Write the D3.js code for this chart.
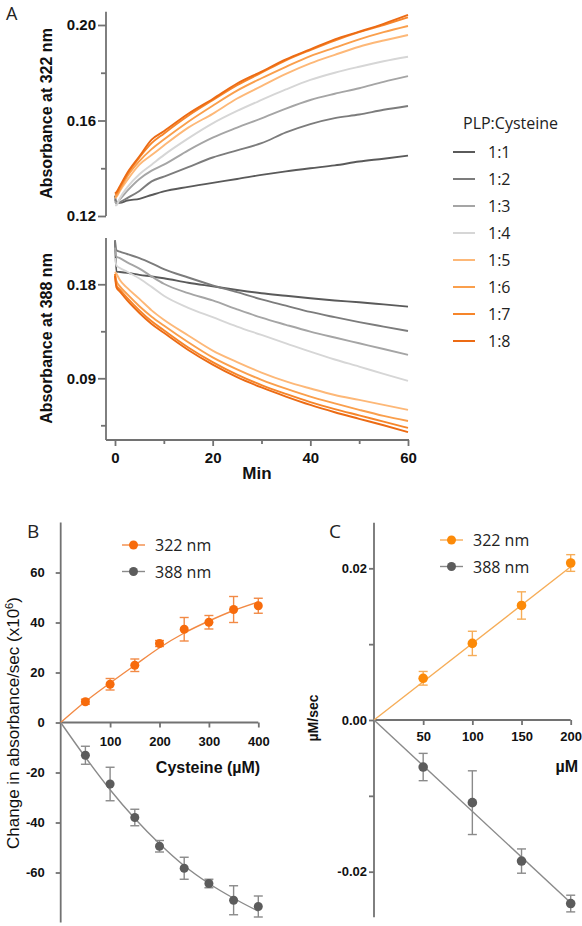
<!DOCTYPE html>
<html><head><meta charset="utf-8">
<script src="https://cdn.jsdelivr.net/npm/d3@7"></script>
<style>body{margin:0;background:#fff}svg{display:block}</style>
</head><body>
<script>
// ---------- DATA ----------
const ratios = ["1:1","1:2","1:3","1:4","1:5","1:6","1:7","1:8"];
const lineColors = ["#5a5a5a","#7c7c7c","#a5a5a5","#d6d6d6","#fdb878","#fa9f4c","#f6852a","#ec6b14"];
const times = [0,0.3,1,2.5,5,7.5,10,15,20,25,30,35,40,45,50,55,60];
const abs322 = [
  [0.1285,0.1255,0.1255,0.1265,0.1272,0.1288,0.1303,0.1322,0.1339,0.1355,0.1372,0.1387,0.1400,0.1412,0.1428,0.1440,0.1453],
  [0.1270,0.1252,0.1258,0.1275,0.1305,0.1345,0.1365,0.1405,0.1445,0.1475,0.1505,0.1550,0.1585,0.1610,0.1625,0.1645,0.1661],
  [0.1260,0.1255,0.1270,0.1305,0.1355,0.1390,0.1415,0.1475,0.1528,0.1570,0.1609,0.1650,0.1686,0.1712,0.1735,0.1762,0.1786],
  [0.1245,0.1245,0.1275,0.1320,0.1375,0.1415,0.1455,0.1525,0.1588,0.1640,0.1686,0.1730,0.1770,0.1800,0.1825,0.1848,0.1867],
  [0.1275,0.1280,0.1305,0.1350,0.1415,0.1455,0.1495,0.1570,0.1628,0.1692,0.1744,0.1795,0.1839,0.1875,0.1909,0.1935,0.1958],
  [0.1280,0.1285,0.1310,0.1365,0.1430,0.1480,0.1520,0.1595,0.1662,0.1725,0.1777,0.1825,0.1870,0.1905,0.1940,0.1970,0.1996],
  [0.1290,0.1295,0.1320,0.1375,0.1445,0.1505,0.1545,0.1620,0.1685,0.1748,0.1800,0.1852,0.1895,0.1935,0.1970,0.2000,0.2032],
  [0.1295,0.1300,0.1325,0.1380,0.1450,0.1520,0.1555,0.1628,0.1690,0.1755,0.1805,0.1856,0.1898,0.1940,0.1972,0.2005,0.2042]
];
const abs388 = [
  [0.222,0.1921,0.1918,0.1910,0.1890,0.1875,0.1858,0.1815,0.1780,0.1745,0.1714,0.1690,0.1666,0.1645,0.1628,0.1607,0.1586],
  [0.222,0.2125,0.2112,0.2090,0.2050,0.2000,0.1945,0.1865,0.1790,0.1725,0.1655,0.1595,0.1535,0.1485,0.1438,0.1395,0.1353],
  [0.215,0.2065,0.2050,0.2010,0.1950,0.1875,0.1805,0.1715,0.1645,0.1560,0.1480,0.1412,0.1347,0.1290,0.1235,0.1180,0.1124],
  [0.205,0.1980,0.1955,0.1920,0.1855,0.1775,0.1690,0.1575,0.1485,0.1395,0.1315,0.1235,0.1155,0.1080,0.1012,0.0942,0.0875],
  [0.192,0.1900,0.1840,0.1765,0.1660,0.1550,0.1460,0.1310,0.1165,0.1055,0.0955,0.0870,0.0802,0.0740,0.0693,0.0645,0.0597],
  [0.190,0.1830,0.1780,0.1705,0.1590,0.1490,0.1405,0.1245,0.1100,0.0985,0.0885,0.0800,0.0724,0.0660,0.0598,0.0540,0.0491],
  [0.190,0.1790,0.1750,0.1670,0.1550,0.1445,0.1360,0.1195,0.1055,0.0935,0.0835,0.0750,0.0672,0.0605,0.0545,0.0485,0.0425],
  [0.188,0.1770,0.1730,0.1645,0.1525,0.1420,0.1335,0.1170,0.1030,0.0910,0.0812,0.0725,0.0645,0.0575,0.0512,0.0450,0.0385]
];
const topTicks = [0.12,0.14,0.16,0.18,0.20];
const topLabels = ["0.12","","0.16","","0.20"];
const botTicks = [0.045,0.09,0.135,0.18];
const botLabels = ["","0.09","","0.18"];
const minTicks = [0,10,20,30,40,50,60];
const minLabels = ["0","","20","","40","","60"];

const bConc = [50,100,150,200,250,300,350,400];
const b322 = [8.3,15.3,22.9,31.6,37.3,40.1,45.2,46.7];
const b322Err = [1.0,2.3,2.5,1.2,4.7,2.7,5.2,3.0];
const b388 = [-13.1,-24.6,-38.0,-49.5,-58.3,-64.4,-71.1,-73.6];
const b388Err = [3.6,6.7,3.3,2.3,4.4,1.7,5.8,4.2];
const bFitConc = [0,50,100,150,200,250,300,350,400];
const bFit322 = [0,8.4,15.8,22.9,29.9,35.8,40.6,44.8,48.2];
const bFit388 = [0,-13.9,-26.9,-38.4,-48.5,-57.3,-64.4,-70.3,-75.5];
const bYTicks = [-60,-40,-20,0,20,40,60];
const bXTicks = [100,200,300,400];

const cConc = [50,100,150,200];
const c322 = [0.0055,0.0101,0.0151,0.0207];
const c322Err = [0.0009,0.0016,0.0018,0.0011];
const c388 = [-0.0062,-0.0109,-0.0186,-0.0242];
const c388Err = [0.0018,0.0042,0.0016,0.0011];
const cFitConc = [0,200];
const cFit322 = [0,0.0202];
const cFit388 = [0,-0.0241];
const cYTicks = [-0.02,-0.01,0,0.01,0.02];
const cYLabels = ["-0.02","","0.00","","0.02"];
const cXTicks = [50,100,150,200];

const seriesNames = ["322 nm","388 nm"];

// ---------- STYLE ----------
const AX = "#727272", AXW = 1.8;
const TICKFONT = "'Liberation Sans', Arial, sans-serif";
const TXTFONT = "'Open Sans', sans-serif";
const orangeB = "#f76b0c", orangeBLine = "#f28a45";
const orangeC = "#fc8a08", orangeCLine = "#f6ad58";
const grayPt = "#5c5c5c", grayLine = "#8a8a8a";
const plain = d => String(d);

const svg = d3.select("body").append("svg").attr("width",582).attr("height",926)
  .style("font-family", TXTFONT);

function styleAxis(g){
  g.selectAll(".domain").remove();
  g.selectAll(".tick line").attr("stroke",AX).attr("stroke-width",AXW);
  g.selectAll(".tick text").attr("fill","#111").style("font-family",TICKFONT).style("font-weight","bold");
}

// ---------- PANEL A ----------
const xA = d3.scaleLinear().domain([0,60]).range([115,408]);
const yTop = d3.scaleLinear().domain([0.12,0.20]).range([216,25]);
const yBot = d3.scaleLinear().domain([0.0309,0.2243]).range([440,238]);

svg.append("text").attr("x",6).attr("y",20).text("A").style("font-size","18px").attr("fill","#222");

// top axis
svg.append("line").attr("x1",106).attr("x2",106).attr("y1",yTop(0.2055)).attr("y2",yTop(0.12))
  .attr("stroke",AX).attr("stroke-width",AXW);
const gTopY = svg.append("g").attr("transform","translate(106,0)")
  .call(d3.axisLeft(yTop).tickValues(topTicks).tickSize(8).tickPadding(2).tickFormat((d,i)=>topLabels[i]));
styleAxis(gTopY);
gTopY.selectAll(".tick text").style("font-size","15px");
gTopY.selectAll(".tick line").attr("x2",(d,i)=>topLabels[i]?-8:-5);

svg.append("text").attr("transform",`translate(52,${(25+202)/2}) rotate(-90)`)
  .attr("text-anchor","middle").style("font-family",TICKFONT).style("font-weight","bold")
  .style("font-size","16px").attr("fill","#111").text("Absorbance at 322 nm");

const lineA = (ys, y) => d3.line().x((d,i)=>xA(times[i])).y(d=>y(d)).curve(d3.curveMonotoneX)(ys);
svg.append("g").selectAll("path").data(abs322).join("path")
  .attr("d",d=>lineA(d,yTop)).attr("fill","none")
  .attr("stroke",(d,i)=>lineColors[i]).attr("stroke-width",1.9);

// bottom axes
svg.append("line").attr("x1",106).attr("x2",106).attr("y1",238).attr("y2",440)
  .attr("stroke",AX).attr("stroke-width",AXW);
svg.append("line").attr("x1",106).attr("x2",409).attr("y1",440).attr("y2",440)
  .attr("stroke",AX).attr("stroke-width",AXW);
const gBotY = svg.append("g").attr("transform","translate(106,0)")
  .call(d3.axisLeft(yBot).tickValues(botTicks).tickSize(8).tickPadding(2).tickFormat((d,i)=>botLabels[i]));
styleAxis(gBotY);
gBotY.selectAll(".tick text").style("font-size","15px");
gBotY.selectAll(".tick line").attr("x2",(d,i)=>botLabels[i]?-8:-5);

const gMinX = svg.append("g").attr("transform","translate(0,440)")
  .call(d3.axisBottom(xA).tickValues(minTicks).tickSize(6).tickPadding(6).tickFormat((d,i)=>minLabels[i]));
styleAxis(gMinX);
gMinX.selectAll(".tick text").style("font-size","15px");
gMinX.selectAll(".tick line").attr("y2",(d,i)=>minLabels[i]?6:4);

svg.append("text").attr("x",257).attr("y",479).attr("text-anchor","middle")
  .style("font-family",TICKFONT).style("font-weight","bold").style("font-size","17px").attr("fill","#111").text("Min");

svg.append("text").attr("transform",`translate(52,${(250+427)/2}) rotate(-90)`)
  .attr("text-anchor","middle").style("font-family",TICKFONT).style("font-weight","bold")
  .style("font-size","16px").attr("fill","#111").text("Absorbance at 388 nm");

svg.append("g").selectAll("path").data(abs388).join("path")
  .attr("d",d=>lineA(d,yBot)).attr("fill","none")
  .attr("stroke",(d,i)=>lineColors[i]).attr("stroke-width",1.9);

// legend A
svg.append("text").attr("x",463).attr("y",129).style("font-size","16px").attr("fill","#222").text("PLP:Cysteine");
const legA = svg.append("g").selectAll("g").data(ratios).join("g")
  .attr("transform",(d,i)=>`translate(0,${152+i*27})`);
legA.append("line").attr("x1",453).attr("x2",475).attr("y1",0).attr("y2",0)
  .attr("stroke",(d,i)=>lineColors[i]).attr("stroke-width",2);
legA.append("text").attr("x",488).attr("y",6).style("font-size","16px").attr("fill","#222").text(d=>d);

// ---------- PANEL B ----------
const xB = d3.scaleLinear().domain([0,400]).range([60.7,258.3]);
const yB = d3.scaleLinear().domain([-80,80]).range([922.5,522.5]);
svg.append("text").attr("x",27).attr("y",538).text("B").style("font-size","19px").attr("fill","#222");
svg.append("line").attr("x1",xB(0)).attr("x2",xB(0)).attr("y1",yB(80)).attr("y2",yB(-80)).attr("stroke",AX).attr("stroke-width",AXW);
svg.append("line").attr("x1",xB(0)).attr("x2",xB(400)).attr("y1",yB(0)).attr("y2",yB(0)).attr("stroke",AX).attr("stroke-width",AXW);
const gBY = svg.append("g").attr("transform",`translate(${xB(0)},0)`)
  .call(d3.axisLeft(yB).tickValues(bYTicks).tickSize(5).tickPadding(11).tickFormat(plain));
styleAxis(gBY); gBY.selectAll(".tick text").style("font-size","13px");
const gBX = svg.append("g").attr("transform",`translate(0,${yB(0)})`)
  .call(d3.axisBottom(xB).tickValues(bXTicks).tickSize(5).tickPadding(9).tickFormat(plain));
styleAxis(gBX); gBX.selectAll(".tick text").style("font-size","13px");
svg.append("text").attr("x",208).attr("y",773).attr("text-anchor","middle")
  .style("font-family",TICKFONT).style("font-weight","bold").style("font-size","16px").attr("fill","#111").text("Cysteine (µM)");
const bLab = svg.append("text").attr("transform",`translate(19,723) rotate(-90)`).attr("text-anchor","middle")
  .style("font-family",TICKFONT).style("font-size","17px").attr("fill","#111");
bLab.append("tspan").text("Change in absorbance/sec (x10");
bLab.append("tspan").attr("dy",-6).style("font-size","11px").text("6");
bLab.append("tspan").attr("dy",6).text(")");

function drawSeries(xs, ys, errs, fx, fy, xS, yS, ptCol, lnCol, r, curve){
  svg.append("path").attr("d",d3.line().x((d,i)=>xS(fx[i])).y(d=>yS(d)).curve(curve)(fy))
    .attr("fill","none").attr("stroke",lnCol).attr("stroke-width",1.4);
  const g = svg.append("g");
  xs.forEach((x,i)=>{
    const cx = xS(x), y1 = yS(ys[i]+errs[i]), y2 = yS(ys[i]-errs[i]);
    g.append("line").attr("x1",cx).attr("x2",cx).attr("y1",y1).attr("y2",y2).attr("stroke",lnCol).attr("stroke-width",1.4);
    [y1,y2].forEach(yy=>g.append("line").attr("x1",cx-4.5).attr("x2",cx+4.5).attr("y1",yy).attr("y2",yy).attr("stroke",lnCol).attr("stroke-width",1.4));
    g.append("circle").attr("cx",cx).attr("cy",yS(ys[i])).attr("r",r).attr("fill",ptCol);
  });
}
drawSeries(bConc,b322,b322Err,bFitConc,bFit322,xB,yB,orangeB,orangeBLine,4.5,d3.curveMonotoneX);
drawSeries(bConc,b388,b388Err,bFitConc,bFit388,xB,yB,grayPt,grayLine,4.5,d3.curveMonotoneX);

function legend(x0, y0, cols, lcols){
  seriesNames.forEach((n,i)=>{
    const y = y0 + i*26.5;
    svg.append("line").attr("x1",x0).attr("x2",x0+23).attr("y1",y).attr("y2",y).attr("stroke",lcols[i]).attr("stroke-width",1.4);
    svg.append("circle").attr("cx",x0+11.5).attr("cy",y).attr("r",4.5).attr("fill",cols[i]);
    svg.append("text").attr("x",x0+33).attr("y",y+6).style("font-size","16px").attr("fill","#222").text(n);
  });
}
legend(122,545,[orangeB,grayPt],[orangeBLine,grayLine]);

// ---------- PANEL C ----------
const xC = d3.scaleLinear().domain([0,200]).range([374,570.7]);
const yC = d3.scaleLinear().domain([-0.026,0.026]).range([917.2,522.8]);
svg.append("text").attr("x",329).attr("y",538).text("C").style("font-size","19px").attr("fill","#222");
svg.append("line").attr("x1",xC(0)).attr("x2",xC(0)).attr("y1",yC(0.026)).attr("y2",yC(-0.026)).attr("stroke",AX).attr("stroke-width",AXW);
svg.append("line").attr("x1",xC(0)).attr("x2",xC(200)).attr("y1",yC(0)).attr("y2",yC(0)).attr("stroke",AX).attr("stroke-width",AXW);
const gCY = svg.append("g").attr("transform",`translate(${xC(0)},0)`)
  .call(d3.axisLeft(yC).tickValues(cYTicks).tickSize(5).tickPadding(2).tickFormat((d,i)=>cYLabels[i]));
styleAxis(gCY); gCY.selectAll(".tick text").style("font-size","13px");
const gCX = svg.append("g").attr("transform",`translate(0,${yC(0)})`)
  .call(d3.axisBottom(xC).tickValues(cXTicks).tickSize(5).tickPadding(7).tickFormat(plain));
styleAxis(gCX); gCX.selectAll(".tick text").style("font-size","13px");
svg.append("text").attr("x",578).attr("y",772).attr("text-anchor","end")
  .style("font-family",TICKFONT).style("font-weight","bold").style("font-size","16px").attr("fill","#111").text("µM");
svg.append("text").attr("transform",`translate(318,718) rotate(-90)`).attr("text-anchor","middle")
  .style("font-family",TICKFONT).style("font-weight","bold").style("font-size","14px").attr("fill","#111").text("µM/sec");

drawSeries(cConc,c322,c322Err,cFitConc,cFit322,xC,yC,orangeC,orangeCLine,4.8,d3.curveLinear);
drawSeries(cConc,c388,c388Err,cFitConc,cFit388,xC,yC,grayPt,grayLine,4.8,d3.curveLinear);
legend(440,540,[orangeC,grayPt],[orangeCLine,grayLine]);
</script>
</body></html>
